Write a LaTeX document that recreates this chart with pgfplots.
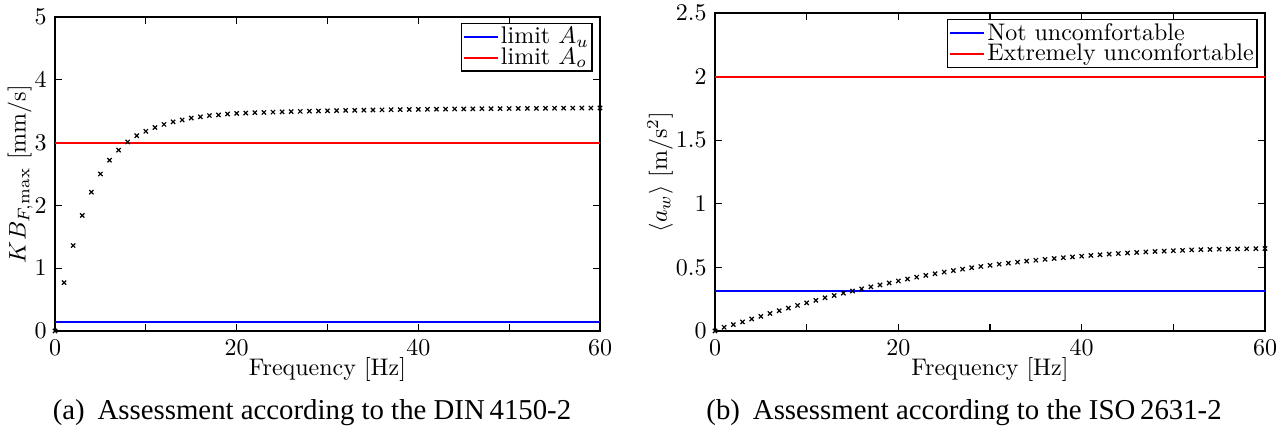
\documentclass[border=0pt]{standalone}
\usepackage{fontspec}
\newfontfamily\capfont{Liberation Serif}
\usepackage{pgfplots}
\pgfplotsset{compat=1.18}

\pgfplotstableread{
x y
0 0
1 0.77
2 1.36
3 1.84
4 2.21
5 2.50
6 2.72
7 2.88
8 3.01
9 3.11
10 3.18
11 3.24
12 3.29
13 3.33
14 3.36
15 3.39
16 3.41
17 3.43
18 3.44
19 3.455
20 3.465
21 3.47
22 3.476
23 3.48
24 3.485
25 3.489
26 3.493
27 3.497
28 3.50
29 3.503
30 3.506
31 3.509
32 3.512
33 3.514
34 3.516
35 3.519
36 3.521
37 3.523
38 3.525
39 3.527
40 3.529
41 3.53
42 3.532
43 3.533
44 3.535
45 3.536
46 3.537
47 3.539
48 3.54
49 3.541
50 3.542
51 3.543
52 3.544
53 3.545
54 3.546
55 3.547
56 3.548
57 3.549
58 3.55
59 3.55
60 3.551
}\dintable

\pgfplotstableread{
x y
0 0
1 0.029
2 0.05
3 0.071
4 0.094
5 0.115
6 0.138
7 0.159
8 0.18
9 0.201
10 0.221
11 0.241
12 0.261
13 0.279
14 0.297
15 0.314
16 0.331
17 0.347
18 0.362
19 0.377
20 0.393
21 0.408
22 0.423
23 0.437
24 0.45
25 0.463
26 0.475
27 0.486
28 0.497
29 0.507
30 0.516
31 0.525
32 0.533
33 0.541
34 0.549
35 0.556
36 0.563
37 0.57
38 0.576
39 0.582
40 0.588
41 0.594
42 0.599
43 0.604
44 0.609
45 0.613
46 0.617
47 0.621
48 0.625
49 0.628
50 0.631
51 0.634
52 0.637
53 0.639
54 0.641
55 0.643
56 0.644
57 0.645
58 0.646
59 0.647
60 0.648
}\isotable

\pgfplotsset{
  myaxis/.style={
    scale only axis,
    anchor=south west,
    xmin=0, xmax=60,
    xtick={0,10,...,60},
    xticklabels={0,,20,,40,,60},
    major tick length=2.8pt,
    tick style={draw=black, line width=0.45pt},
    axis line style={draw=black, line width=0.7pt},
    xlabel={Frequency [Hz]},
    legend cell align=left,
    legend style={inner sep=0.6pt, row sep=-1.5pt, line width=0.6pt,
      nodes={inner sep=0.8pt}},
  },
  mymarks/.style={only marks, mark=x, mark size=1.25pt, draw=black,
    mark options={draw=black, line width=0.5pt}},
}

\begin{document}
\begin{tikzpicture}
\useasboundingbox (0,0) rectangle (535pt,180.83pt);

\begin{axis}[myaxis,
  at={(22.92pt,42.92pt)},
  width=227.08pt, height=130.83pt,
  ymin=0, ymax=5, ytick={0,1,...,5},
  ylabel={$KB_{F,\max}$ [mm/s]},
  xlabel style={at={(axis description cs:0.5,-0.124)}, anchor=center},
  ylabel style={at={(axis description cs:-0.064,0.5)}, anchor=center},
  legend style={at={(0.987,0.981)}, anchor=north east},
]
\addplot[draw=blue, line width=0.85pt,
  legend image code/.code={\draw[draw=blue,line width=0.85pt] (0cm,0cm) -- (0.5cm,0cm);}]
  coordinates {(0,0.15) (60,0.15)};
\addlegendentry{limit $A_u$}
\addplot[draw=red, line width=0.85pt,
  legend image code/.code={\draw[draw=red,line width=0.85pt] (0cm,0cm) -- (0.5cm,0cm);}]
  coordinates {(0,3) (60,3)};
\addlegendentry{limit $A_o$}
\addplot[mymarks, forget plot] table[x=x,y=y] {\dintable};
\end{axis}

\begin{axis}[myaxis,
  at={(297.92pt,42.92pt)},
  width=229.17pt, height=132.5pt,
  ymin=0, ymax=2.5, ytick={0,0.5,...,2.5},
  yticklabel style={/pgf/number format/fixed},
  ylabel={$\langle a_w\rangle$ [m/s$^2$]},
  xlabel style={at={(axis description cs:0.5,-0.1226)}, anchor=center},
  ylabel style={at={(axis description cs:-0.1,0.5)}, anchor=center},
  legend style={at={(0.987,0.981)}, anchor=north east},
]
\addplot[draw=blue, line width=0.85pt,
  legend image code/.code={\draw[draw=blue,line width=0.85pt] (0cm,0cm) -- (0.5cm,0cm);}]
  coordinates {(0,0.315) (60,0.315)};
\addlegendentry{Not uncomfortable}
\addplot[draw=red, line width=0.85pt,
  legend image code/.code={\draw[draw=red,line width=0.85pt] (0cm,0cm) -- (0.5cm,0cm);}]
  coordinates {(0,2) (60,2)};
\addlegendentry{Extremely uncomfortable}
\addplot[mymarks, forget plot] table[x=x,y=y] {\isotable};
\end{axis}

\node[anchor=base] at (130pt,5.9pt) {\capfont\fontsize{12}{14}\selectfont (a)\hspace{0.45em}Assessment according to the DIN\,4150-2};
\node[anchor=base] at (401.7pt,5.9pt) {\capfont\fontsize{12}{14}\selectfont (b)\hspace{0.45em}Assessment according to the ISO\,2631-2};
\end{tikzpicture}
\end{document}
